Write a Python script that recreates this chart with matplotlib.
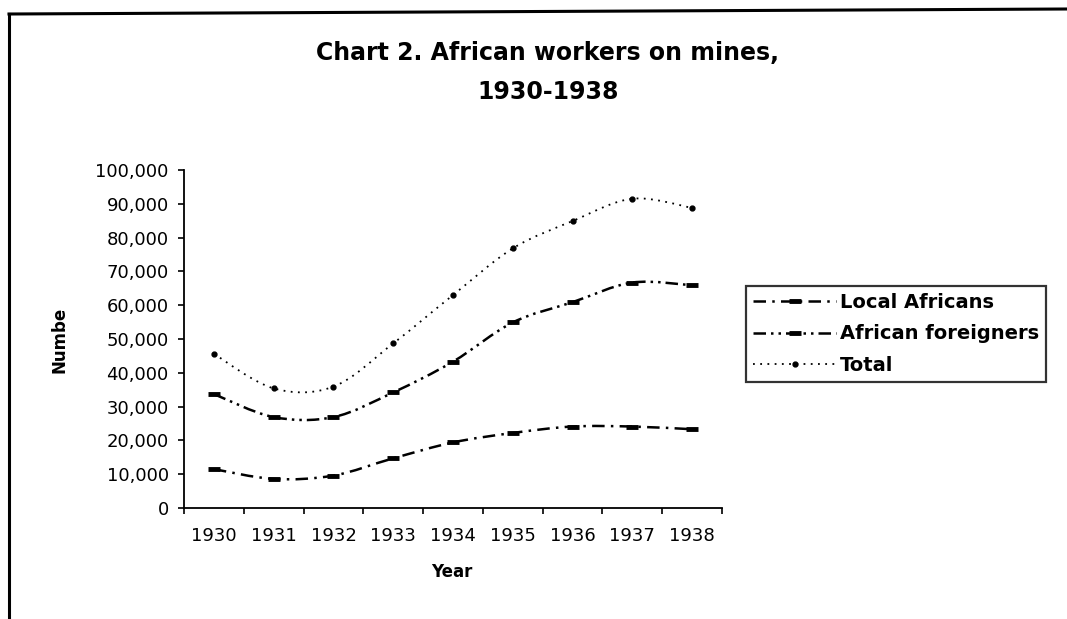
import matplotlib
matplotlib.use("Agg")
import matplotlib.pyplot as plt
from matplotlib.path import Path
from matplotlib.patches import PathPatch
from matplotlib.lines import Line2D
from matplotlib.ticker import FuncFormatter, FixedLocator

# data
years = ["1930", "1931", "1932", "1933", "1934", "1935", "1936", "1937", "1938"]
local_africans = [11500, 8600, 9600, 14700, 19400, 22200, 24100, 24100, 23300]
african_foreigners = [33700, 26900, 26900, 34200, 43300, 54900, 60900, 66700, 65900]
total = [45600, 35400, 35900, 48700, 63000, 76800, 84900, 91500, 88800]
y_ticks = [0, 10000, 20000, 30000, 40000, 50000, 60000, 70000, 80000, 90000, 100000]


def smooth_path(xs, ys):
    """Bezier path through the points, like Excel's smoothed line."""
    pts = list(zip(xs, ys))
    verts = [pts[0]]
    codes = [Path.MOVETO]
    n = len(pts)
    for i in range(n - 1):
        p0 = pts[max(i - 1, 0)]
        p1 = pts[i]
        p2 = pts[i + 1]
        p3 = pts[min(i + 2, n - 1)]
        c1 = (p1[0] + (p2[0] - p0[0]) / 6, p1[1] + (p2[1] - p0[1]) / 6)
        c2 = (p2[0] - (p3[0] - p1[0]) / 6, p2[1] - (p3[1] - p1[1]) / 6)
        verts += [c1, c2, p2]
        codes += [Path.CURVE4] * 3
    return Path(verts, codes)


fig = plt.figure(figsize=(10.67, 6.19), dpi=100)
ax = fig.add_axes([184 / 1067, 111 / 619, 538 / 1067, 338 / 619])

x = list(range(len(years)))
series = [
    ("Local Africans", local_africans, (0, (5, 2.5, 1, 2.5)), 1.8, "_", 9, 3.5),
    ("African foreigners", african_foreigners, (0, (5, 2, 1, 2, 1, 2)), 1.8, "_", 9, 3.5),
    ("Total", total, (0, (1, 3)), 1.3, "o", 3.5, 1),
]

handles = []
for label, vals, ls, lw, mk, ms, mew in series:
    patch = PathPatch(smooth_path(x, vals), fill=False, edgecolor="black",
                      linewidth=lw, linestyle=ls, capstyle="butt")
    ax.add_patch(patch)
    ax.plot(x, vals, linestyle="none", marker=mk, markersize=ms,
            color="black", markeredgewidth=mew)
    handles.append(Line2D([0], [0], color="black", linewidth=lw, linestyle=ls,
                          marker=mk, markersize=ms, markeredgewidth=mew))

ax.set_xlim(-0.5, len(years) - 0.5)
ax.set_ylim(0, 100000)

for s in ["top", "right"]:
    ax.spines[s].set_visible(False)
for s in ["left", "bottom"]:
    ax.spines[s].set_linewidth(1.3)

ax.yaxis.set_major_locator(FixedLocator(y_ticks))
ax.yaxis.set_major_formatter(FuncFormatter(lambda v, p: f"{v:,.0f}"))
ax.tick_params(axis="y", direction="out", length=4, width=1.2, pad=7,
               labelsize=13)

# ticks between categories, labels at centres
ax.xaxis.set_major_locator(FixedLocator([i - 0.5 for i in range(len(years) + 1)]))
ax.xaxis.set_major_formatter(FuncFormatter(lambda v, p: ""))
ax.xaxis.set_minor_locator(FixedLocator(x))
ax.set_xticks(x, years, minor=True)
ax.tick_params(axis="x", which="major", direction="out", length=4, width=1.2)
ax.tick_params(axis="x", which="minor", length=0, pad=14, labelsize=13)

for t in ax.get_yticklabels() + ax.get_xticklabels(minor=True):
    t.set_family("DejaVu Sans")

fig.text(60 / 1067, 1 - 340 / 619, "Numbe", rotation=90, ha="center",
         va="center", fontsize=12, fontweight="bold")
fig.text(452 / 1067, 1 - 572 / 619, "Year", ha="center", va="center",
         fontsize=12, fontweight="bold")

fig.text(548 / 1067, 1 - 53 / 619, "Chart 2. African workers on mines,",
         ha="center", va="center", fontsize=17, fontweight="bold")
fig.text(548 / 1067, 1 - 92 / 619, "1930-1938",
         ha="center", va="center", fontsize=17, fontweight="bold")

leg = fig.legend(handles, [s[0] for s in series], loc="upper left",
                 bbox_to_anchor=(746 / 1067, 1 - 286 / 619),
                 prop={"weight": "bold", "size": 14}, frameon=True,
                 fancybox=False, handlelength=4.3, handletextpad=0.2,
                 labelspacing=0.65, borderpad=0.35, borderaxespad=0)
leg.get_frame().set_edgecolor("black")
leg.get_frame().set_linewidth(1.6)

# chart area border (only top and left edges fall inside the scan)
fig.add_artist(Line2D([9 / 1067, 1], [1 - 14 / 619, 1 - 9 / 619],
                      color="black", linewidth=2.2))
fig.add_artist(Line2D([9 / 1067, 9 / 1067], [1 - 14 / 619, 0],
                      color="black", linewidth=2.2))

fig.savefig("out.png", dpi=100)
